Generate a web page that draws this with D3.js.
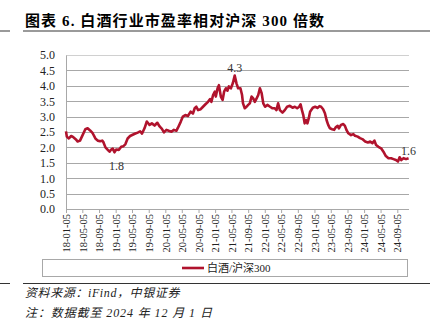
<!DOCTYPE html>
<html><head><meta charset="utf-8">
<script src="https://cdn.jsdelivr.net/npm/d3@7"></script>
<style>
html,body{margin:0;padding:0;background:#fff;}
svg{display:block;}
text{font-family:"Liberation Serif","Noto Sans CJK SC",serif;}
</style></head>
<body><svg id="c" width="430" height="323"></svg>
<script>
const title = "图表 6. 白酒行业市盈率相对沪深 300 倍数";
const seriesName = "白酒/沪深300";
const sourceText = "资料来源：iFind，中银证券";
const noteText = "注：数据截至 2024 年 12 月 1 日";
const dates = ["2018-01-05","2018-01-11","2018-01-26","2018-02-12","2018-02-28","2018-03-19","2018-03-31","2018-04-18","2018-05-07","2018-05-27","2018-06-13","2018-07-01","2018-07-20","2018-08-09","2018-08-26","2018-09-13","2018-09-28","2018-10-07","2018-10-22","2018-11-08","2018-11-21","2018-12-03","2018-12-15","2018-12-27","2019-01-09","2019-01-28","2019-02-15","2019-03-03","2019-03-17","2019-04-03","2019-04-21","2019-05-10","2019-05-30","2019-06-16","2019-07-04","2019-07-18","2019-08-05","2019-08-22","2019-09-06","2019-09-11","2019-09-28","2019-10-18","2019-11-07","2019-11-24","2019-12-11","2019-12-26","2020-01-13","2020-01-30","2020-02-19","2020-03-08","2020-03-26","2020-04-07","2020-04-27","2020-05-13","2020-05-31","2020-06-19","2020-07-09","2020-07-26","2020-08-08","2020-08-20","2020-09-02","2020-09-21","2020-10-08","2020-10-26","2020-11-14","2020-11-29","2020-12-09","2020-12-21","2021-01-03","2021-01-10","2021-01-23","2021-02-02","2021-02-16","2021-03-01","2021-03-12","2021-03-25","2021-04-06","2021-04-16","2021-05-01","2021-05-15","2021-05-29","2021-06-11","2021-06-23","2021-07-10","2021-07-22","2021-07-29","2021-08-11","2021-08-24","2021-09-05","2021-09-17","2021-09-30","2021-10-12","2021-10-24","2021-11-06","2021-11-18","2021-11-30","2021-12-13","2021-12-25","2022-01-07","2022-01-24","2022-02-13","2022-03-03","2022-03-20","2022-04-01","2022-04-13","2022-04-26","2022-05-15","2022-06-01","2022-06-18","2022-07-08","2022-07-28","2022-08-14","2022-08-31","2022-09-15","2022-09-25","2022-10-05","2022-10-15","2022-10-25","2022-11-04","2022-11-14","2022-11-24","2022-12-04","2022-12-24","2023-01-10","2023-01-27","2023-02-11","2023-02-23","2023-03-10","2023-03-23","2023-04-04","2023-04-16","2023-04-29","2023-05-15","2023-05-30","2023-06-10","2023-06-25","2023-07-04","2023-07-19","2023-08-05","2023-08-17","2023-08-30","2023-09-11","2023-10-01","2023-10-18","2023-10-30","2023-11-19","2023-12-06","2023-12-23","2024-01-13","2024-02-02","2024-02-19","2024-03-06","2024-03-21","2024-04-02","2024-04-19","2024-05-09","2024-05-26","2024-06-13","2024-07-02","2024-07-22","2024-08-08","2024-08-26","2024-09-10","2024-09-22","2024-10-04","2024-10-21","2024-11-08","2024-11-27"];
const values = [2.52,2.35,2.29,2.37,2.33,2.26,2.19,2.22,2.40,2.59,2.62,2.55,2.46,2.29,2.22,2.20,2.22,2.17,2.00,1.92,1.86,1.93,1.96,1.84,1.93,1.92,2.02,2.04,2.10,2.29,2.37,2.41,2.45,2.48,2.52,2.45,2.62,2.84,2.76,2.73,2.78,2.71,2.80,2.68,2.60,2.49,2.57,2.54,2.51,2.57,2.54,2.64,2.83,3.00,3.05,3.02,3.16,3.10,3.27,3.32,3.21,3.24,3.32,3.40,3.48,3.57,3.48,3.70,3.81,3.65,3.92,4.02,3.65,3.54,3.81,3.92,3.84,3.98,3.92,4.08,4.33,4.08,3.92,3.92,3.70,3.43,3.27,3.32,3.38,3.43,3.65,3.59,3.48,3.59,3.70,3.92,3.76,3.43,3.32,3.38,3.32,3.27,3.27,3.21,3.43,3.21,3.13,3.21,3.32,3.35,3.29,3.32,3.27,3.32,3.40,3.21,3.05,2.78,2.89,2.78,2.94,3.16,3.29,3.32,3.28,3.34,3.32,3.24,3.11,2.89,2.73,2.62,2.59,2.57,2.65,2.70,2.62,2.73,2.76,2.70,2.55,2.46,2.40,2.43,2.38,2.35,2.30,2.27,2.19,2.16,2.19,2.14,2.22,2.08,2.02,1.97,1.86,1.72,1.65,1.65,1.62,1.59,1.54,1.68,1.59,1.65,1.62,1.65];
const xTickLabels = ["18-01-05","18-05-05","18-09-05","19-01-05","19-05-05","19-09-05","20-01-05","20-05-05","20-09-05","21-01-05","21-05-05","21-09-05","22-01-05","22-05-05","22-09-05","23-01-05","23-05-05","23-09-05","24-01-05","24-05-05","24-09-05"];
const yTicks = [0,0.5,1,1.5,2,2.5,3,3.5,4,4.5,5];
const annotations = [
  {date:"2021-05-29", value:4.3, label:"4.3", pos:"above"},
  {date:"2018-12-27", value:1.8, label:"1.8", pos:"below"},
  {date:"2024-11-27", value:1.6, label:"1.6", pos:"above"}
];

const parse = d3.timeParse("%Y-%m-%d");
const parseTick = d3.timeParse("%y-%m-%d");
const data = dates.map((d,i)=>({date:parse(d), value:values[i]}));

const svg = d3.select("#c");
const W = 430, H = 323;
const pL = 66, pR = 409, pT = 55, pB = 209;

// title
svg.append("text").attr("x",25).attr("y",26).attr("font-size",15).attr("font-weight","bold")
  .attr("fill","#000").attr("letter-spacing","1.1").text(title);
svg.append("rect").attr("x",23).attr("y",30).attr("width",W-23).attr("height",2).attr("fill","#9a9a9a");
svg.append("rect").attr("x",0).attr("y",30).attr("width",10).attr("height",2).attr("fill","#9a9a9a");

const x = d3.scaleTime().domain([parse("2018-01-05"), parse("2024-11-30")]).range([pL, pR]);
const y = d3.scaleLinear().domain([0,5]).range([pB, pT]);

// gridlines
svg.append("g").selectAll("line").data(yTicks).join("line")
  .attr("x1",pL).attr("x2",pR)
  .attr("y1",d=>Math.round(y(d))+0.5).attr("y2",d=>Math.round(y(d))+0.5)
  .attr("stroke",d=>d===5?"#d0d0d0":"#a8a8a8").attr("stroke-width",1);

// y axis
const yAxis = d3.axisLeft(y).tickValues(yTicks).tickFormat(d3.format(".1f")).tickSize(0).tickPadding(11);
const gy = svg.append("g").attr("transform",`translate(${pL},0)`).call(yAxis);
gy.select(".domain").attr("stroke","#a8a8a8");
gy.selectAll("text").attr("font-size",12).attr("fill","#222").attr("font-family","Liberation Serif");

// x axis
const xAxis = d3.axisBottom(x).tickValues(xTickLabels.map(parseTick)).tickFormat(d3.timeFormat("%y-%m-%d")).tickSize(4).tickPadding(4);
const gx = svg.append("g").attr("transform",`translate(0,${pB})`).call(xAxis);
gx.select(".domain").attr("stroke","#a8a8a8").attr("d",`M${pL},0.5H${pR}`);
gx.selectAll(".tick line").attr("stroke","#a8a8a8");
gx.selectAll("text").attr("font-size",10.5).attr("fill","#222").attr("font-family","Liberation Serif")
  .attr("transform","rotate(-90)").attr("text-anchor","end").attr("x",-5).attr("y",0).attr("dy","0.35em");

// line
const line = d3.line().x(d=>x(d.date)).y(d=>y(d.value));
svg.append("path").datum(data).attr("d",line).attr("fill","none")
  .attr("stroke","#b0132d").attr("stroke-width",2.6).attr("stroke-linejoin","round");

// annotations
svg.append("g").selectAll("text").data(annotations).join("text")
  .attr("x",d=>x(parse(d.date))+(d.pos==="below"?2:0))
  .attr("y",d=>d.pos==="below"? y(d.value)+16 : y(d.value)-5)
  .attr("text-anchor","middle").attr("font-size",12).attr("fill","#333").text(d=>d.label);

// legend
svg.append("rect").attr("x",42.5).attr("y",259.5).attr("width",365).attr("height",17)
  .attr("fill","#fff").attr("stroke","#a8a8a8");
svg.append("line").attr("x1",182).attr("x2",204).attr("y1",268).attr("y2",268)
  .attr("stroke","#b0132d").attr("stroke-width",2.6);
svg.append("text").attr("x",207).attr("y",272).attr("font-size",11).attr("fill","#222").text(seriesName);

// footer
svg.append("rect").attr("x",23).attr("y",283).attr("width",W-23).attr("height",1).attr("fill","#333");
svg.append("rect").attr("x",0).attr("y",283).attr("width",10).attr("height",1).attr("fill","#333");
svg.append("text").attr("x",25).attr("y",297).attr("font-size",12).attr("font-style","italic").attr("fill","#222").attr("letter-spacing","0.6").text(sourceText);
svg.append("text").attr("x",25).attr("y",317).attr("font-size",12).attr("font-style","italic").attr("fill","#222").attr("letter-spacing","0.9").text(noteText);
</script></body></html>
